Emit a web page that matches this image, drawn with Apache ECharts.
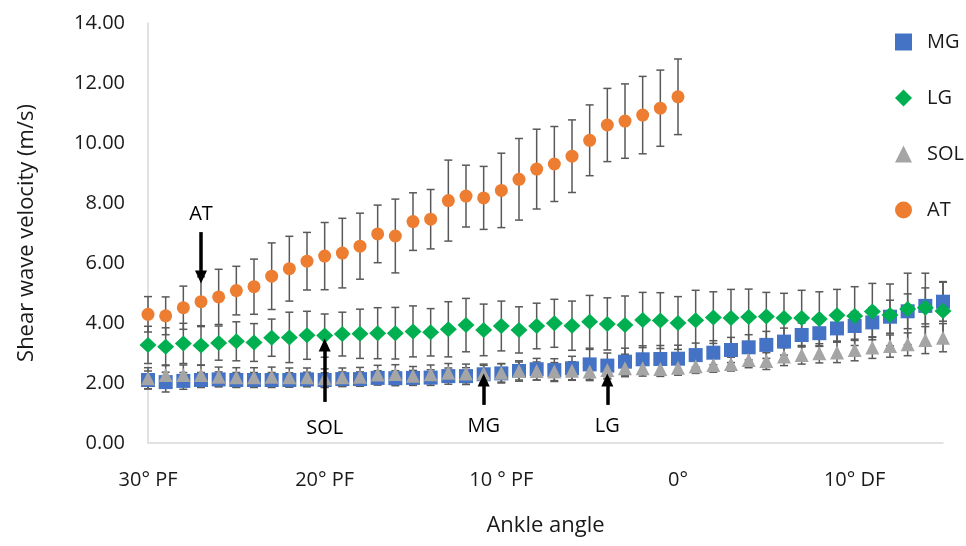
<!DOCTYPE html>
<html>
<head>
<meta charset="utf-8">
<script src="https://cdn.jsdelivr.net/npm/echarts@6/dist/echarts.min.js"></script>
<style>
  html, body { margin: 0; padding: 0; background: #fff; }
  #chart { width: 966px; height: 546px; }
</style>
</head>
<body>
<div id="chart"></div>
<script>
// ankle angle in degrees: negative = plantar flexion, positive = dorsiflexion
var angles = [-30,-29,-28,-27,-26,-25,-24,-23,-22,-21,-20,-19,-18,-17,-16,-15,-14,-13,-12,-11,-10,-9,-8,-7,-6,-5,-4,-3,-2,-1,0,1,2,3,4,5,6,7,8,9,10,11,12,13,14,15];

var mg = [2.10,2.03,2.07,2.10,2.12,2.10,2.10,2.10,2.10,2.12,2.10,2.13,2.13,2.17,2.16,2.17,2.18,2.23,2.23,2.29,2.32,2.40,2.46,2.43,2.49,2.62,2.58,2.71,2.79,2.80,2.81,2.93,3.01,3.10,3.19,3.27,3.38,3.60,3.66,3.82,3.90,4.02,4.21,4.39,4.57,4.71];
var mgSd = [0.30,0.33,0.28,0.25,0.25,0.25,0.25,0.25,0.24,0.24,0.24,0.24,0.24,0.24,0.25,0.25,0.26,0.27,0.28,0.30,0.32,0.34,0.36,0.38,0.40,0.50,0.42,0.45,0.45,0.45,0.45,0.40,0.40,0.42,0.42,0.45,0.45,0.40,0.42,0.45,0.48,0.50,0.55,0.58,0.60,0.65];

var lg = [3.27,3.21,3.32,3.25,3.33,3.39,3.35,3.51,3.52,3.59,3.58,3.63,3.64,3.66,3.66,3.72,3.69,3.79,3.93,3.77,3.90,3.77,3.90,3.99,3.91,4.04,3.97,3.93,4.10,4.08,4.00,4.09,4.18,4.17,4.20,4.22,4.17,4.17,4.13,4.26,4.23,4.38,4.27,4.47,4.51,4.40];
var lgSd = [0.62,0.63,0.67,0.66,0.57,0.65,0.63,0.62,0.84,0.80,0.72,0.73,0.82,0.85,0.86,0.85,0.79,0.92,0.89,0.86,0.83,0.77,0.76,0.80,0.82,0.88,0.87,0.97,0.92,0.93,0.88,1.00,0.86,0.95,0.93,0.80,0.82,0.92,0.91,0.86,0.98,0.94,1.03,1.19,1.15,0.98];

var sol = [2.16,2.27,2.27,2.27,2.21,2.19,2.19,2.21,2.19,2.19,2.16,2.19,2.21,2.28,2.30,2.24,2.29,2.34,2.32,2.32,2.34,2.40,2.40,2.38,2.41,2.38,2.43,2.49,2.49,2.47,2.51,2.56,2.60,2.63,2.77,2.73,2.88,2.93,2.99,3.02,3.10,3.18,3.23,3.29,3.43,3.51];
var solSd = [0.35,0.33,0.33,0.33,0.32,0.32,0.32,0.32,0.31,0.31,0.31,0.31,0.31,0.31,0.31,0.31,0.31,0.31,0.31,0.31,0.31,0.30,0.30,0.30,0.30,0.30,0.30,0.28,0.26,0.25,0.25,0.24,0.24,0.23,0.26,0.28,0.30,0.30,0.32,0.34,0.36,0.36,0.37,0.38,0.45,0.47];

// AT measured from 30° PF to 0° only
var at = [4.29,4.24,4.51,4.71,4.87,5.08,5.21,5.56,5.81,6.06,6.23,6.33,6.56,6.97,6.90,7.38,7.46,8.08,8.23,8.17,8.42,8.79,9.13,9.30,9.56,10.09,10.60,10.73,10.93,11.16,11.54];
var atSd = [0.59,0.63,0.72,0.83,0.92,0.81,0.92,1.11,1.08,0.96,1.12,1.16,1.10,0.96,1.23,0.96,0.99,1.35,1.03,1.05,1.24,1.36,1.33,1.25,1.21,1.18,1.22,1.24,1.29,1.27,1.26];

var xTickValues = [-30, -20, -10, 0, 10];
var xTickLabels = ['30° PF', '20° PF', '10 ° PF', '0°', '10° DF'];

// arrows pointing at where each muscle starts to stiffen
var arrowNames = ['AT', 'SOL', 'MG', 'LG'];
var arrowAngles = [-27, -20, -11, -4];
var arrowFrom = [7.03, 1.37, 1.27, 1.27];
var arrowTo = [5.53, 3.27, 2.10, 2.10];
var arrowLabelY = [7.62, 0.50, 0.57, 0.57];

var FONT = '"Open Sans", "Noto Sans", sans-serif';
var TXT = '#1a1a1a';

function pairs(means) {
  return means.map(function (m, i) { return [angles[i], m]; });
}

function errorBars(name, means, sds) {
  return {
    type: 'custom',
    name: name + ' SD',
    silent: true,
    animation: false,
    renderItem: function (params, api) {
      var x = api.value(0), m = api.value(1), s = api.value(2);
      var top = api.coord([x, m + s]);
      var bot = api.coord([x, m - s]);
      var hw = 4;
      var st = { stroke: '#595959', lineWidth: 1.5 };
      return {
        type: 'group',
        children: [
          { type: 'line', shape: { x1: top[0], y1: top[1], x2: bot[0], y2: bot[1] }, style: st },
          { type: 'line', shape: { x1: top[0] - hw, y1: top[1], x2: top[0] + hw, y2: top[1] }, style: st },
          { type: 'line', shape: { x1: bot[0] - hw, y1: bot[1], x2: bot[0] + hw, y2: bot[1] }, style: st }
        ]
      };
    },
    encode: { x: 0, y: 1 },
    data: means.map(function (m, i) { return [angles[i], m, sds[i]]; })
  };
}

function points(name, means, symbol, size, color) {
  return {
    type: 'scatter',
    name: name,
    symbol: symbol,
    symbolSize: size,
    itemStyle: { color: color, opacity: 1 },
    animation: false,
    data: pairs(means)
  };
}

var chart = echarts.init(document.getElementById('chart'));

chart.setOption({
  backgroundColor: '#fff',
  textStyle: { fontFamily: FONT },
  grid: { left: 148, right: 23, top: 23, bottom: 103 },
  legend: {
    data: ['MG', 'LG', 'SOL', 'AT'],
    orient: 'vertical',
    left: 890,
    top: 27,
    itemWidth: 17,
    itemHeight: 17,
    itemGap: 36,
    textStyle: { fontSize: 20, color: TXT, fontFamily: FONT, padding: [0, 0, 0, 10] }
  },
  xAxis: {
    type: 'value',
    min: -30,
    max: 15,
    interval: 10,
    name: 'Ankle angle',
    nameLocation: 'middle',
    nameGap: 72,
    nameTextStyle: { fontSize: 22, color: TXT },
    axisLine: { show: true, onZero: false, lineStyle: { color: '#d9d9d9', width: 1.5 } },
    axisTick: { show: false },
    splitLine: { show: false },
    axisLabel: {
      fontSize: 20,
      color: TXT,
      margin: 27,
      showMaxLabel: false,
      formatter: function (v) {
        var i = xTickValues.indexOf(v);
        return i < 0 ? '' : xTickLabels[i];
      }
    }
  },
  yAxis: {
    type: 'value',
    min: 0,
    max: 14,
    interval: 2,
    name: 'Shear wave velocity (m/s)',
    nameLocation: 'middle',
    nameGap: 110,
    nameTextStyle: { fontSize: 22, color: TXT },
    axisLine: { show: true, onZero: false, lineStyle: { color: '#d9d9d9', width: 1.5 } },
    axisTick: { show: false },
    splitLine: { show: false },
    axisLabel: {
      fontSize: 20,
      color: TXT,
      margin: 23,
      formatter: function (v) { return v.toFixed(2); }
    }
  },
  series: [
    errorBars('MG', mg, mgSd),
    points('MG', mg, 'rect', 14, '#4472C4'),
    errorBars('LG', lg, lgSd),
    points('LG', lg, 'diamond', [17, 16], '#00B050'),
    errorBars('SOL', sol, solSd),
    points('SOL', sol, 'triangle', 14, '#A5A5A5'),
    errorBars('AT', at, atSd),
    points('AT', at, 'circle', 13, '#ED7D31'),
    {
      type: 'scatter',
      name: 'annotations',
      data: [],
      silent: true,
      animation: false,
      markLine: {
        silent: true,
        animation: false,
        symbol: ['none', 'triangle'],
        symbolSize: [12, 13],
        lineStyle: { color: '#000', width: 3.5, type: 'solid' },
        label: { show: false },
        data: arrowNames.map(function (n, i) {
          return [{ coord: [arrowAngles[i], arrowFrom[i]] }, { coord: [arrowAngles[i], arrowTo[i]] }];
        })
      },
      markPoint: {
        silent: true,
        animation: false,
        symbol: 'circle',
        symbolSize: 1,
        itemStyle: { color: 'rgba(0,0,0,0)' },
        label: { show: true, position: 'inside', fontSize: 20, color: '#000', fontFamily: FONT, formatter: '{b}' },
        data: arrowNames.map(function (n, i) {
          return { name: n, coord: [arrowAngles[i], arrowLabelY[i]] };
        })
      }
    }
  ]
});
</script>
</body>
</html>
